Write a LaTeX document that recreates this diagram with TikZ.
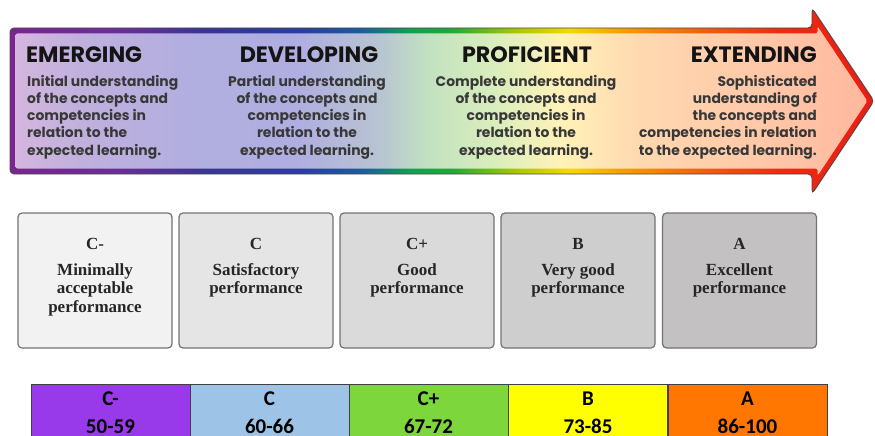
\documentclass[tikz,border=0pt]{standalone}
\usepackage{fontspec}
\newfontfamily\arrowfont{Poppins}
\newfontfamily\boxfont{Liberation Serif}
\newfontfamily\tabfont{Carlito}
\definecolor{bA}{HTML}{7A2590}
\definecolor{bB}{HTML}{6A2E98}
\definecolor{bC}{HTML}{3C3496}
\definecolor{bD}{HTML}{2A3CA0}
\definecolor{bE}{HTML}{1C5CA0}
\definecolor{bF}{HTML}{10A050}
\definecolor{bG}{HTML}{20A838}
\definecolor{bH}{HTML}{B0C800}
\definecolor{bI}{HTML}{F5D800}
\definecolor{bJ}{HTML}{F5A000}
\definecolor{bK}{HTML}{F06010}
\definecolor{bL}{HTML}{EE2A10}
\definecolor{bM}{HTML}{EE1C10}
\definecolor{fA}{HTML}{D4B6DE}
\definecolor{fB}{HTML}{C0B0DE}
\definecolor{fC}{HTML}{B1AEE0}
\definecolor{fD}{HTML}{B0AEE0}
\definecolor{fE}{HTML}{B8C4D2}
\definecolor{fF}{HTML}{C2E2C0}
\definecolor{fG}{HTML}{DCEEBC}
\definecolor{fH}{HTML}{FFF2B8}
\definecolor{fI}{HTML}{FFD8B0}
\definecolor{fJ}{HTML}{FFC8A8}
\definecolor{fK}{HTML}{FFB89E}
\definecolor{gOne}{HTML}{F2F2F2}
\definecolor{gTwo}{HTML}{E5E5E5}
\definecolor{gThree}{HTML}{DADADA}
\definecolor{gFour}{HTML}{CECECE}
\definecolor{gFive}{HTML}{C3C1C2}
\definecolor{cPurple}{HTML}{993AEA}
\definecolor{cBlue}{HTML}{9DC3E6}
\definecolor{cGreen}{HTML}{7DD63C}
\definecolor{cYellow}{HTML}{FFFF00}
\definecolor{cOrange}{HTML}{FF7700}
\pgfdeclarehorizontalshading{bordershade}{100bp}{color(0bp)=(bA); color(25bp)=(bA); color(31.4bp)=(bB); color(36bp)=(bC); color(41.8bp)=(bD); color(45.3bp)=(bE); color(48.1bp)=(bF); color(50.5bp)=(bG); color(54.5bp)=(bH); color(57.4bp)=(bI); color(60.3bp)=(bJ); color(65bp)=(bK); color(69.6bp)=(bL); color(75bp)=(bM); color(100bp)=(bM)}
\pgfdeclarehorizontalshading{fillshade}{100bp}{color(0bp)=(fA); color(25bp)=(fA); color(28.8bp)=(fB); color(35.8bp)=(fC); color(41.7bp)=(fD); color(46.4bp)=(fE); color(49.3bp)=(fF); color(53.4bp)=(fG); color(57bp)=(fH); color(61.7bp)=(fI); color(68.7bp)=(fJ); color(75bp)=(fK); color(100bp)=(fK)}
\begin{document}
\begin{tikzpicture}[x=1pt,y=-1pt,
  headtext/.style={font=\arrowfont\bfseries\fontsize{22.2}{22.2}\selectfont, text=black!92, inner sep=0},
  desctext/.style={font=\arrowfont\bfseries\fontsize{13.9}{17.3}\selectfont, text=black!78, inner sep=0},
  gradebox/.style={draw=black!55, line width=1.2pt, rounded corners=4pt, minimum width=154pt, minimum height=135pt, inner sep=0},
  boxtext/.style={font=\boxfont\bfseries\fontsize{17}{18.5}\selectfont, text=black!85, align=center, inner sep=0},
  cell/.style={draw=black!75, line width=1.2pt, minimum width=159pt, minimum height=60pt, anchor=north west, inner sep=0},
  celltext/.style={font=\tabfont\bfseries\fontsize{21}{28}\selectfont, align=center, inner sep=0}]
\useasboundingbox (0,0) rectangle (875,436);
% arrow
\shade[shading=bordershade, rounded corners=4pt] (10,28) -- (812,28) -- (812,8) -- (874,101) -- (812,194) -- (812,174) -- (10,174) -- cycle;
\shade[shading=fillshade, rounded corners=2pt] (15.5,33.5) -- (817.5,33.5) -- (817.5,26.2) -- (867.4,101) -- (817.5,175.8) -- (817.5,168.5) -- (15.5,168.5) -- cycle;
\draw[black!70, line width=0.9pt, rounded corners=4pt] (10,28) -- (812,28) -- (812,8) -- (874,101) -- (812,194) -- (812,174) -- (10,174) -- cycle;
% arrow texts (base anchor of a multi-line node = baseline of its last line)
\node[headtext, anchor=base west] (h1) at (26,63) {EMERGING};
\node[desctext, align=left, anchor=base west] (d1) at (27,155.2) {Initial understanding\\of the concepts and\\competencies in\\relation to the\\expected learning.};
\node[headtext, anchor=base] (h2) at (309,63) {DEVELOPING};
\node[desctext, align=center, anchor=base] (d2) at (307,155.2) {Partial understanding\\of the concepts and\\competencies in\\relation to the\\expected learning.};
\node[headtext, anchor=base] (h3) at (527,63) {PROFICIENT};
\node[desctext, align=center, anchor=base] (d3) at (526,155.2) {Complete understanding\\of the concepts and\\competencies in\\relation to the\\expected learning.};
\node[headtext, anchor=base east] (h4) at (817,63) {EXTENDING};
\node[desctext, align=right, anchor=base east] (d4) at (817,155.2) {Sophisticated\\understanding of\\the concepts and\\competencies in relation\\to the expected learning.};
% grade boxes
\node[gradebox, fill=gOne] (g1) at (95,280.5) {};
\node[gradebox, fill=gTwo] (g2) at (256,280.5) {};
\node[gradebox, fill=gThree] (g3) at (417,280.5) {};
\node[gradebox, fill=gFour] (g4) at (578,280.5) {};
\node[gradebox, fill=gFive] (g5) at (739.5,280.5) {};
\node[boxtext, anchor=base] (l1) at (95,249) {C-};
\node[boxtext, anchor=base] (t1) at (95,312) {Minimally\\acceptable\\performance};
\node[boxtext, anchor=base] (l2) at (256,249) {C};
\node[boxtext, anchor=base] (t2) at (256,293.5) {Satisfactory\\performance};
\node[boxtext, anchor=base] (l3) at (417,249) {C+};
\node[boxtext, anchor=base] (t3) at (417,293.5) {Good\\performance};
\node[boxtext, anchor=base] (l4) at (578,249) {B};
\node[boxtext, anchor=base] (t4) at (578,293.5) {Very good\\performance};
\node[boxtext, anchor=base] (l5) at (739.5,249) {A};
\node[boxtext, anchor=base] (t5) at (739.5,293.5) {Excellent\\performance};
% table
\node[cell, fill=cPurple] (c1) at (31,384) {};
\node[cell, fill=cBlue] (c2) at (190,384) {};
\node[cell, fill=cGreen] (c3) at (349,384) {};
\node[cell, fill=cYellow] (c4) at (508,384) {};
\node[cell, fill=cOrange] (c5) at (668,384) {};
\node[celltext, anchor=base] (s1) at (110.5,433) {C-\\50-59};
\node[celltext, anchor=base] (s2) at (269.5,433) {C\\60-66};
\node[celltext, anchor=base] (s3) at (428.5,433) {C+\\67-72};
\node[celltext, anchor=base] (s4) at (588,433) {B\\73-85};
\node[celltext, anchor=base] (s5) at (747.5,433) {A\\86-100};
\end{tikzpicture}
\end{document}
